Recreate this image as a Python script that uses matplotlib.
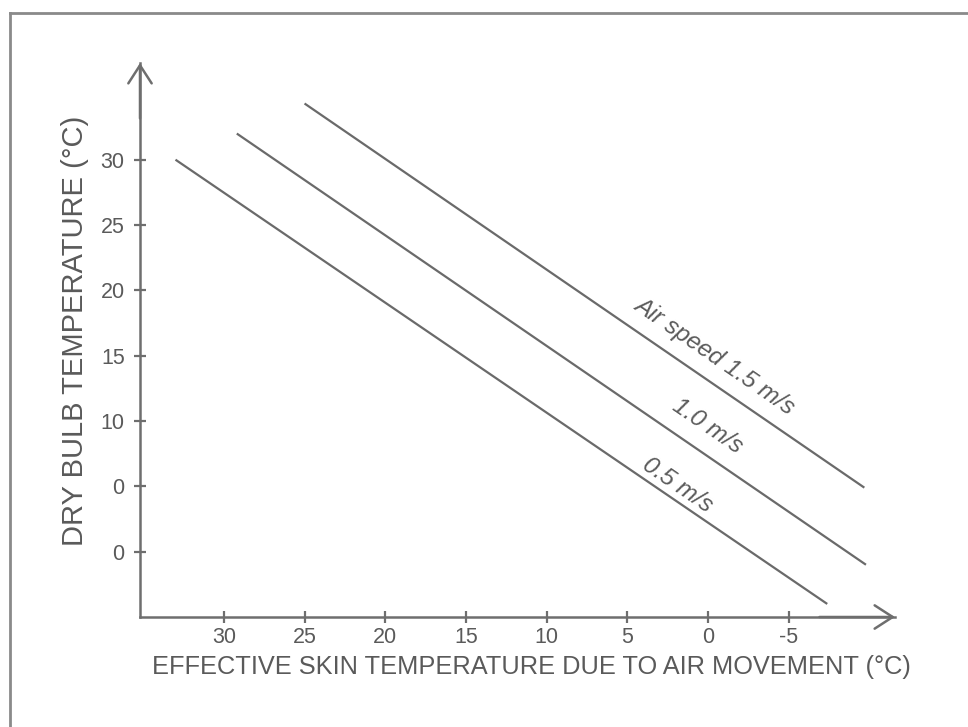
import matplotlib
matplotlib.use("Agg")
import matplotlib.pyplot as plt
from matplotlib.lines import Line2D

# ---- data ----
x_ticks = [30, 25, 20, 15, 10, 5, 0, -5]
x_tick_labels = ["30", "25", "20", "15", "10", "5", "0", "-5"]
y_ticks = [30, 25, 20, 15, 10, 5, 0]
y_tick_labels = ["30", "25", "20", "15", "10", "0", "0"]

speed_labels = ["0.5 m/s", "1.0 m/s", "Air speed 1.5 m/s"]
line_x = [[33.0, -7.4], [29.2, -9.8], [25.0, -9.7]]
line_y = [[30.0, -4.0], [32.0, -1.0], [34.3, 4.9]]
label_x = [1.9, 0.0, -0.4]
label_y = [5.1, 9.6, 15.0]

x_label = "EFFECTIVE SKIN TEMPERATURE DUE TO AIR MOVEMENT (\u00b0C)"
y_label = "DRY BULB TEMPERATURE (\u00b0C)"

# ---- style ----
import matplotlib.font_manager as fm
names = {f.name for f in fm.fontManager.ttflist}
narrow = "Liberation Sans Narrow" if "Liberation Sans Narrow" in names else "Liberation Sans"
plt.rcParams["font.family"] = [narrow, "DejaVu Sans"]

ink = "#5a5a5a"
axc = "#6e6e6e"

fig = plt.figure(figsize=(9.68, 7.27), dpi=100)
fig.patch.set_facecolor("white")
W, H = 968, 727
ax = fig.add_axes([140 / W, 110 / H, (895 - 140) / W, (617 - 63) / H])

ax.set_xlim(35.2, -11.6)
ax.set_ylim(-5.0, 37.4)

for xs, ys in zip(line_x, line_y):
    ax.plot(xs, ys, color="#6a6a6a", lw=1.6, solid_capstyle="butt")

for t, tx, ty in zip(speed_labels, label_x, label_y):
    ax.text(tx, ty, t, rotation=-34.5, rotation_mode="anchor",
            ha="center", va="center", fontsize=17.5, style="italic",
            color=ink, family=["Liberation Sans", "DejaVu Sans"])

for s in ["top", "right"]:
    ax.spines[s].set_visible(False)
for s in ["left", "bottom"]:
    ax.spines[s].set_color(axc)
    ax.spines[s].set_linewidth(1.8)

ax.set_xticks(x_ticks)
ax.set_xticklabels(x_tick_labels, family=["Liberation Sans", "DejaVu Sans"])
ax.set_yticks(y_ticks)
ax.set_yticklabels(y_tick_labels, family=["Liberation Sans", "DejaVu Sans"])
ax.tick_params(axis="both", direction="inout", length=8, width=1.6,
               color=axc, labelcolor=ink, labelsize=15.5)
ax.tick_params(axis="x", pad=3)
ax.tick_params(axis="y", pad=7)

ax.set_xlabel(x_label, fontsize=18.3, color=ink)
ax.xaxis.set_label_coords(0.518, -0.068)
ax.xaxis.label.set_va("top")
ax.set_ylabel(y_label, fontsize=21, color=ink)
ax.yaxis.set_label_coords(-0.068, 0.516)

# open arrow heads at the axis ends
arrow = dict(arrowstyle="->,head_length=0.65,head_width=0.42", color=axc,
             lw=1.8, mutation_scale=20, shrinkA=0, shrinkB=0)
ax.annotate("", xy=(0, 1), xytext=(0, 0.9), xycoords="axes fraction",
            arrowprops=arrow, annotation_clip=False)
ax.annotate("", xy=(1, 0), xytext=(0.9, 0), xycoords="axes fraction",
            arrowprops=arrow, annotation_clip=False)

# scan frame (top and left)
fig.add_artist(Line2D([10 / W, 1.0], [1 - 13 / H, 1 - 13 / H],
                      transform=fig.transFigure, color="#8a8a8a", lw=2))
fig.add_artist(Line2D([10 / W, 10 / W], [0.0, 1 - 13 / H],
                      transform=fig.transFigure, color="#8a8a8a", lw=2))

fig.savefig("out.png", dpi=100, facecolor="white")
